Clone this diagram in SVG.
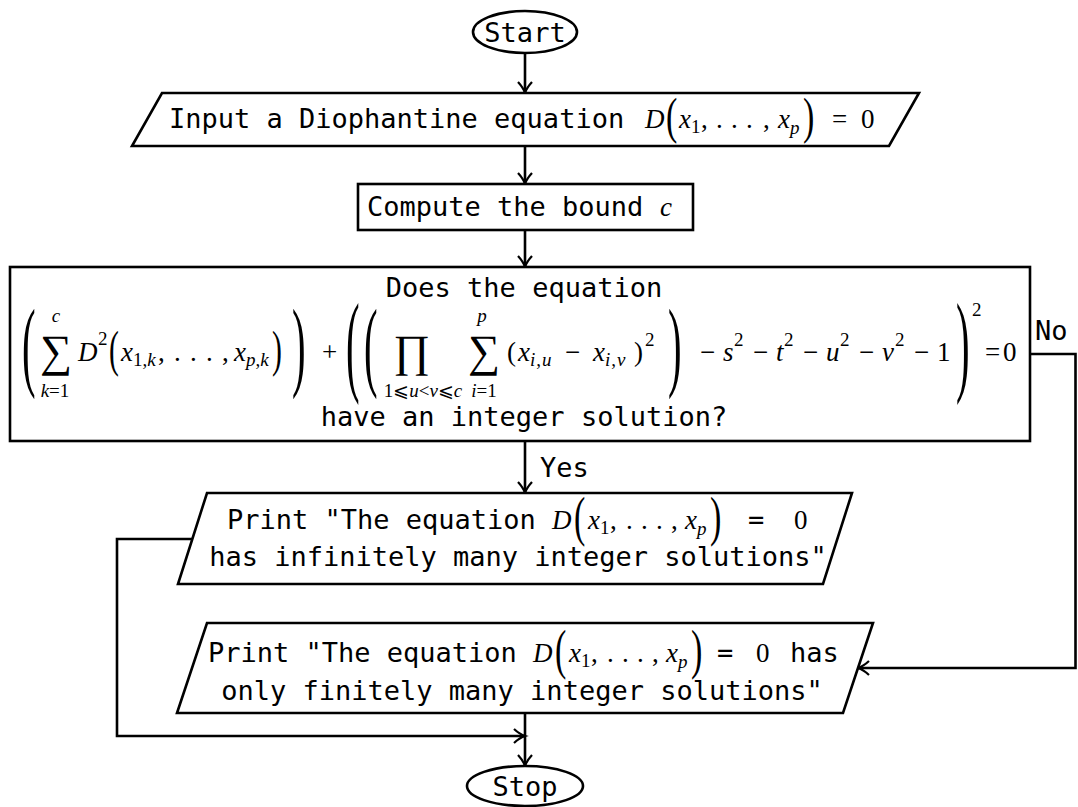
<svg xmlns="http://www.w3.org/2000/svg" width="1078" height="807" viewBox="0 0 1078 807">
<defs>
<style>
.shape{fill:#fff;stroke:#000;stroke-width:2.6}
.edge{fill:none;stroke:#000;stroke-width:2.6}
.mono{font-family:"DejaVu Sans Mono",monospace;font-size:27px;fill:#000}
.m{font-family:"Liberation Serif","DejaVu Serif",serif;font-size:27px;fill:#000}
.i{font-style:italic}
.s{font-size:19px}
.big{font-size:34px}
.op{font-size:45px}
</style>
<marker id="arr" markerUnits="userSpaceOnUse" markerWidth="24" markerHeight="24" refX="12" refY="12" viewBox="0 0 24 24" orient="auto">
<path d="M1,5 Q7,10.5 12,12 Q7,13.5 1,19" fill="none" stroke="#000" stroke-width="2.2"/>
</marker>
</defs>
<rect width="1078" height="807" fill="#fff"/>

<g id="connectors">
<path class="edge" d="M525,53 V93" marker-end="url(#arr)"/>
<path class="edge" d="M525,146 V184" marker-end="url(#arr)"/>
<path class="edge" d="M525,230 V267" marker-end="url(#arr)"/>
<path class="edge" d="M525,441 V493" marker-end="url(#arr)"/>
<path class="edge" d="M1030,354 H1075.5 V668 H858" marker-end="url(#arr)"/>
<path class="edge" d="M192,539 H117 V736 H525" marker-end="url(#arr)"/>
<path class="edge" d="M525,713 V766" marker-end="url(#arr)"/>
<text class="mono" x="540" y="477">Yes</text>
<text class="mono" x="1035" y="340">No</text>
</g>

<g id="start">
<ellipse class="shape" cx="525" cy="32" rx="52" ry="21"/>
<text class="mono" x="525" y="42" text-anchor="middle">Start</text>
</g>

<g id="input">
<polygon class="shape" points="162,93 919,93 889,146 132,146"/>
<text class="mono" x="169" y="128">Input a Diophantine equation</text>
<text class="m i" x="645" y="128">D</text>
<text class="m big" transform="translate(666,133) scale(1.0,1.5)">(</text>
<text class="m i" x="679" y="128">x</text>
<text class="m s" x="691" y="133">1</text>
<text class="m" y="128"><tspan x="701">,</tspan><tspan x="716">.</tspan><tspan x="731">.</tspan><tspan x="746">.</tspan><tspan x="763">,</tspan></text>
<text class="m i" x="778" y="128">x</text>
<text class="m s i" x="790" y="134">p</text>
<text class="m big" transform="translate(803,133) scale(1.0,1.5)">)</text>
<text class="m" x="832" y="128">=</text>
<text class="m" x="861" y="128">0</text>
</g>

<g id="compute">
<rect class="shape" x="358" y="184" width="335" height="46"/>
<text class="mono" x="367" y="216">Compute the bound</text>
<text class="m i" x="660" y="216">c</text>
</g>

<g id="decision">
<rect class="shape" x="10" y="267" width="1020" height="174"/>
<text class="mono" x="524" y="297" text-anchor="middle">Does the equation</text>
<text class="mono" x="524" y="426" text-anchor="middle">have an integer solution?</text>
<text class="m big" transform="translate(22,378) scale(1.2,2.94)">(</text>
<text class="m op" x="56" y="366" text-anchor="middle">∑</text>
<text class="m s i" x="56" y="322" text-anchor="middle">c</text>
<text class="m s" x="55" y="397" text-anchor="middle"><tspan class="i">k</tspan>=1</text>
<text class="m i" x="78" y="361">D</text>
<text class="m s" x="98" y="345">2</text>
<text class="m" transform="translate(109,366) scale(1.1,1.89)">(</text>
<text class="m i" x="121" y="361">x</text>
<text class="m s" x="133" y="366">1,<tspan class="i">k</tspan></text>
<text class="m" y="361"><tspan x="158">,</tspan><tspan x="174">.</tspan><tspan x="190">.</tspan><tspan x="206">.</tspan><tspan x="222">,</tspan></text>
<text class="m i" x="234" y="361">x</text>
<text class="m s i" x="246" y="366">p<tspan font-style="normal">,</tspan>k</text>
<text class="m" transform="translate(272,366) scale(1.1,1.89)">)</text>
<text class="m big" transform="translate(292,378) scale(1.2,2.94)">)</text>
<text class="m" x="322" y="361">+</text>
<text class="m big" transform="translate(346,380.7) scale(1.2,3.27)">(</text>
<text class="m big" transform="translate(364,378) scale(1.2,2.94)">(</text>
<text class="m op" x="412" y="366" text-anchor="middle">∏</text>
<text class="m s" x="423" y="397" text-anchor="middle">1⩽<tspan class="i">u</tspan>&lt;<tspan class="i">v</tspan>⩽<tspan class="i">c</tspan></text>
<text class="m op" x="484" y="366" text-anchor="middle">∑</text>
<text class="m s i" x="482" y="322" text-anchor="middle">p</text>
<text class="m s" x="484" y="397" text-anchor="middle"><tspan class="i">i</tspan>=1</text>
<text class="m" x="507" y="361">(</text>
<text class="m i" x="518" y="361">x</text>
<text class="m s i" x="530" y="366" letter-spacing="1">i<tspan font-style="normal">,</tspan>u</text>
<text class="m" x="565" y="361">−</text>
<text class="m i" x="593" y="361">x</text>
<text class="m s i" x="605" y="366" letter-spacing="1">i<tspan font-style="normal">,</tspan>v</text>
<text class="m" x="634" y="361">)</text>
<text class="m s" x="645" y="346">2</text>
<text class="m big" transform="translate(668,378) scale(1.2,2.94)">)</text>
<text class="m" x="700" y="361">−</text>
<text class="m i" x="723" y="361">s</text>
<text class="m s" x="734" y="346">2</text>
<text class="m" x="753" y="361">−</text>
<text class="m i" x="776" y="361">t</text>
<text class="m s" x="784" y="346">2</text>
<text class="m" x="803" y="361">−</text>
<text class="m i" x="826" y="361">u</text>
<text class="m s" x="840" y="346">2</text>
<text class="m" x="859" y="361">−</text>
<text class="m i" x="882" y="361">v</text>
<text class="m s" x="895" y="346">2</text>
<text class="m" x="914" y="361">−</text>
<text class="m" x="937" y="361">1</text>
<text class="m big" transform="translate(956,380.7) scale(1.2,3.27)">)</text>
<text class="m s" x="972" y="316">2</text>
<text class="m" x="985" y="361">=</text>
<text class="m" x="1003" y="361">0</text>
</g>

<g id="print-infinite">
<polygon class="shape" points="207,493 852,493 823,584 178,584"/>
<text class="mono" x="227" y="529">Print "The equation</text>
<text class="m i" x="552" y="529">D</text>
<text class="m big" transform="translate(574,535) scale(1.0,1.62)">(</text>
<text class="m i" x="588" y="529">x</text>
<text class="m s" x="600" y="534">1</text>
<text class="m" y="529"><tspan x="610">,</tspan><tspan x="626">.</tspan><tspan x="641">.</tspan><tspan x="656">.</tspan><tspan x="671">,</tspan></text>
<text class="m i" x="685" y="529">x</text>
<text class="m s i" x="697" y="535">p</text>
<text class="m big" transform="translate(710,535) scale(1.0,1.62)">)</text>
<text class="mono" x="748" y="529">=</text>
<text class="m" x="794" y="529">0</text>
<text class="mono" x="518" y="566" text-anchor="middle">has infinitely many integer solutions"</text>
</g>

<g id="print-finite">
<polygon class="shape" points="207,623 873,623 843,713 177,713"/>
<text class="mono" x="208" y="662">Print "The equation</text>
<text class="m i" x="533" y="662">D</text>
<text class="m big" transform="translate(555,668) scale(1.0,1.62)">(</text>
<text class="m i" x="569" y="662">x</text>
<text class="m s" x="581" y="667">1</text>
<text class="m" y="662"><tspan x="591">,</tspan><tspan x="607">.</tspan><tspan x="622">.</tspan><tspan x="637">.</tspan><tspan x="652">,</tspan></text>
<text class="m i" x="666" y="662">x</text>
<text class="m s i" x="678" y="668">p</text>
<text class="m big" transform="translate(691,668) scale(1.0,1.62)">)</text>
<text class="mono" x="717" y="662">=</text>
<text class="m" x="756" y="662">0</text>
<text class="mono" x="790" y="662">has</text>
<text class="mono" x="522" y="700" text-anchor="middle">only finitely many integer solutions"</text>
</g>

<g id="stop">
<ellipse class="shape" cx="525" cy="786" rx="58" ry="20"/>
<text class="mono" x="525" y="796" text-anchor="middle">Stop</text>
</g>
</svg>
